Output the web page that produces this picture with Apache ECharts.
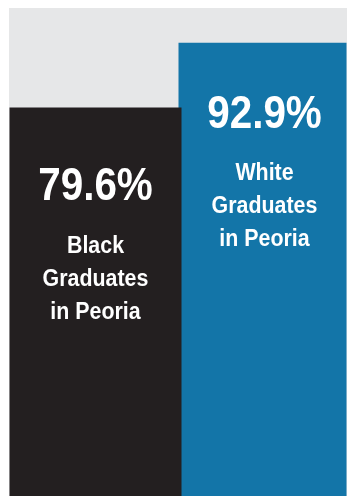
<!DOCTYPE html>
<html>
<head>
<meta charset="utf-8">
<style>html,body{margin:0;padding:0;background:#fff;}#c{width:347px;height:496px;}</style>
<script src="https://cdn.jsdelivr.net/npm/echarts@6/dist/echarts.min.js"></script>
</head>
<body>
<div id="c"></div>
<script>
var groups = ['Black', 'White'];
var values = [79.6, 92.9];
var captionLines = [
  ['Black', 'Graduates', 'in Peoria'],
  ['White', 'Graduates', 'in Peoria']
];
var colors = ['#231f20', '#1375a8'];

var FONT = '"Liberation Sans", Arial, sans-serif';
// text baselines measured below each bar top (style, not data)
var valueBaseline = [96, 89];
var captionBaseline = [147, 139];
var captionStep = 33;

var chart = echarts.init(document.getElementById('c'), null, {renderer: 'canvas'});

function barSeries(i, width, z) {
  return {
    type: 'bar', name: groups[i], data: [values[i]], xAxisIndex: 0,
    barWidth: width, barGap: '-1.744%', z: z, silent: true,
    itemStyle: {color: colors[i]}
  };
}
function textEl(text, x, baseline, fs, sx) {
  return {
    type: 'text', x: x, y: baseline - 0.3465 * fs, scaleX: sx,
    style: {text: text, fill: '#fff', fontFamily: FONT, fontWeight: 'bold', fontSize: fs, align: 'center', verticalAlign: 'middle'}
  };
}
chart.setOption({
  animation: false,
  grid: {left: 9, right: 0, top: 8, bottom: 0, show: true, backgroundColor: '#e6e7e8', borderWidth: 0},
  xAxis: [{type: 'category', data: ['Peoria'], show: false}, {type: 'category', data: groups, show: false}],
  yAxis: {type: 'value', min: 0, max: 100, show: false},
  series: [
    barSeries(0, 172, 3), barSeries(1, 168, 2),
    {
      type: 'custom', xAxisIndex: 1, z: 10, silent: true,
      data: groups.map(function (g, i) { return [i, values[i]]; }),
      renderItem: function (params, api) {
        var i = params.dataIndex;
        var p = api.coord([api.value(0), api.value(1)]);
        var cx = p[0] + 2, top = p[1];
        var children = [textEl(values[i].toFixed(1) + '%', cx, top + valueBaseline[i], 47, 0.86)];
        captionLines[i].forEach(function (s, k) {
          children.push(textEl(s, cx, top + captionBaseline[i] + k * captionStep, 23, 0.93));
        });
        return {type: 'group', children: children};
      }
    }
  ]
});
</script>
</body>
</html>
